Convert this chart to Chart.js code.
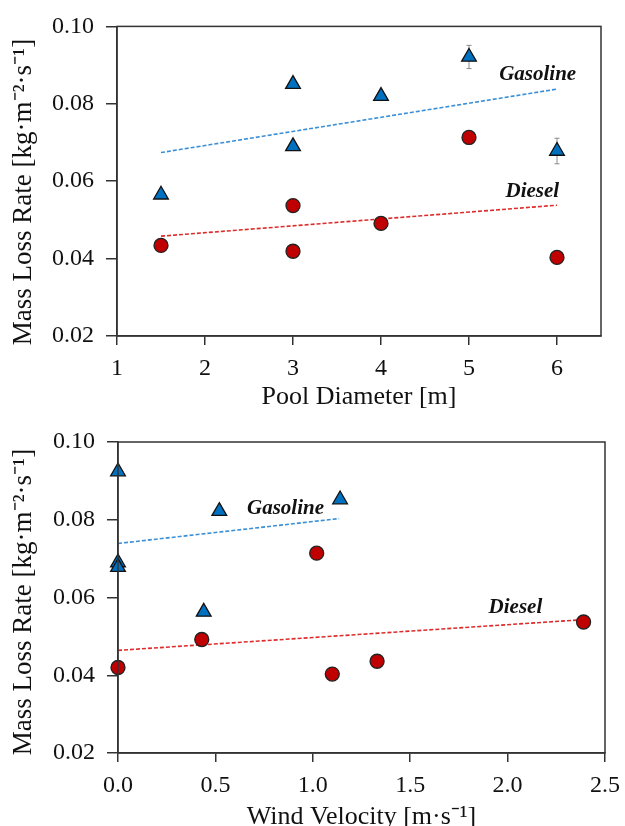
<!DOCTYPE html>
<html>
<head>
<meta charset="utf-8">
<script src="https://cdn.jsdelivr.net/npm/chart.js@4.4.1/dist/chart.umd.min.js"></script>
<style>
  body { margin: 0; background: #fff; }
  .wrap { position: relative; width: 625px; height: 826px; overflow: hidden; }
  canvas { position: absolute; left: 0; }
</style>
</head>
<body>
<div class="wrap">
  <canvas id="topChart" width="625" height="413" style="top:0"></canvas>
  <canvas id="botChart" width="625" height="413" style="top:413px"></canvas>
</div>
<script>
// ---- top panel: pool diameter ----
const topGasX = [1.5, 3, 3, 4, 5, 6];
const topGasY = [0.0565, 0.0851, 0.0690, 0.0820, 0.0921, 0.0678];
const topGasErr = [0, 0, 0, 0, 0.0030, 0.0033];
const topDieX = [1.5, 3, 3, 4, 5, 6];
const topDieY = [0.0434, 0.0537, 0.0419, 0.0491, 0.0713, 0.0403];
const topFitX = [1.5, 6];
const topFitGas = [0.0674, 0.0838];
const topFitDie = [0.0458, 0.0538];
const topXTicks = [1, 2, 3, 4, 5, 6];

// ---- bottom panel: wind velocity ----
const botGasX = [0, 0, 0, 0.44, 0.52, 1.14];
const botGasY = [0.0924, 0.0690, 0.0678, 0.0563, 0.0822, 0.0852];
const botDieX = [0, 0.43, 1.02, 1.10, 1.33, 2.39];
const botDieY = [0.0420, 0.0492, 0.0714, 0.0403, 0.0436, 0.0537];
const botFitGasX = [0, 1.135];
const botFitGas = [0.0739, 0.0803];
const botFitDieX = [0, 2.39];
const botFitDie = [0.0464, 0.0543];
const botXTicks = [0, 0.5, 1.0, 1.5, 2.0, 2.5];

const yTicks = [0.02, 0.04, 0.06, 0.08, 0.10];
const yTitle = 'Mass Loss Rate [kg\u00b7m\u207b\u00b2\u00b7s\u207b\u00b9]';

const SERIF = '"Liberation Serif", "Times New Roman", serif';
const BLUE = '#0070C0', RED = '#C00000';

function pts(xs, ys) { return xs.map((x, i) => ({ x: x, y: ys[i] })); }

// frame, error bars, y title and the italic labels
const extras = {
  id: 'extras',
  beforeDatasetsDraw(chart, args, opts) {
    const ctx = chart.ctx, xs = chart.scales.x, ys = chart.scales.y;
    (opts.errors || []).forEach(e => {
      e.x.forEach((x, i) => {
        if (!e.err[i]) return;
        const px = xs.getPixelForValue(x);
        const y1 = ys.getPixelForValue(e.y[i] + e.err[i]);
        const y2 = ys.getPixelForValue(e.y[i] - e.err[i]);
        ctx.save();
        ctx.strokeStyle = '#8a8a8a';
        ctx.lineWidth = 1;
        ctx.beginPath();
        ctx.moveTo(px, y1); ctx.lineTo(px, y2);
        ctx.moveTo(px - 2.5, y1); ctx.lineTo(px + 2.5, y1);
        ctx.moveTo(px - 2.5, y2); ctx.lineTo(px + 2.5, y2);
        ctx.stroke();
        ctx.restore();
      });
    });
  },
  afterDraw(chart, args, opts) {
    const ctx = chart.ctx, a = chart.chartArea;
    const xs = chart.scales.x, ys = chart.scales.y;
    ctx.save();
    ctx.strokeStyle = '#333';
    ctx.lineWidth = 1.5;
    ctx.strokeRect(a.left, a.top, a.right - a.left, a.bottom - a.top);
    ctx.font = 'italic bold 21px ' + SERIF;
    ctx.fillStyle = '#111';
    ctx.textAlign = 'center';
    ctx.textBaseline = 'middle';
    (opts.labels || []).forEach(l => {
      ctx.fillText(l.text, xs.getPixelForValue(l.x), ys.getPixelForValue(l.y));
    });
    // rotated y title
    ctx.translate(24, opts.yTitleY);
    ctx.rotate(-Math.PI / 2);
    ctx.font = '27px ' + SERIF;
    ctx.fillText(yTitle, 0, 0);
    ctx.restore();
  }
};

function makeChart(id, c) {
  return new Chart(document.getElementById(id), {
    type: 'scatter',
    data: {
      datasets: [
        { data: pts(c.gasX, c.gasY), pointStyle: 'triangle', pointRadius: 8.5,
          backgroundColor: BLUE, borderColor: '#111', borderWidth: 1.3, clip: false, order: 0 },
        { data: pts(c.dieX, c.dieY), pointStyle: 'circle', pointRadius: 7,
          backgroundColor: RED, borderColor: '#222', borderWidth: 1.3, clip: false, order: 1 },
        { data: pts(c.fitGasX, c.fitGas), showLine: true, pointRadius: 0,
          borderColor: '#3b8fd6', borderWidth: 1.6, borderDash: [4, 2], order: 2 },
        { data: pts(c.fitDieX, c.fitDie), showLine: true, pointRadius: 0,
          borderColor: '#dd2c2c', borderWidth: 1.6, borderDash: [4, 2], order: 3 }
      ]
    },
    options: {
      responsive: false,
      animation: false,
      layout: { padding: { top: c.padTop, right: c.padRight, left: 0, bottom: 0 } },
      plugins: {
        legend: { display: false },
        tooltip: { enabled: false },
        extras: { errors: c.errors, labels: c.labels, yTitleY: c.yTitleY }
      },
      scales: {
        x: {
          type: 'linear', min: c.xMin, max: c.xMax,
          afterBuildTicks: s => { s.ticks = c.xTicks.map(v => ({ value: v })); },
          afterFit: s => { s.height = c.xHeight; s.paddingRight = 0; s.paddingLeft = 0; },
          ticks: { color: '#111', font: { family: SERIF, size: 24 }, padding: 9,
                   maxRotation: 0, callback: v => v.toFixed(c.xDec) },
          grid: { display: true, drawOnChartArea: false, drawTicks: true, tickLength: 9,
                  color: '#333', lineWidth: 1.5 },
          border: { display: true, color: '#333', width: 1.5 },
          title: { display: true, text: c.xTitle, color: '#111',
                   font: { family: SERIF, size: 26 }, padding: { top: 0, bottom: c.xTitlePadBottom } }
        },
        y: {
          min: 0.02, max: 0.10,
          afterBuildTicks: s => { s.ticks = yTicks.map(v => ({ value: v })); },
          afterFit: s => { s.width = c.yWidth; },
          ticks: { color: '#111', font: { family: SERIF, size: 24 }, padding: 12,
                   callback: v => v.toFixed(2) },
          grid: { display: true, drawOnChartArea: false, drawTicks: true, tickLength: 11,
                  color: '#333', lineWidth: 1.5 },
          border: { display: true, color: '#333', width: 1.5 },
          title: { display: false }
        }
      }
    },
    plugins: [extras]
  });
}

makeChart('topChart', {
  gasX: topGasX, gasY: topGasY, dieX: topDieX, dieY: topDieY,
  fitGasX: topFitX, fitGas: topFitGas, fitDieX: topFitX, fitDie: topFitDie,
  xMin: 1, xMax: 6.5, xTicks: topXTicks, xDec: 0, xTitle: 'Pool Diameter [m]',
  padTop: 21, padRight: 24, xHeight: 77, yWidth: 117, xTitlePadBottom: 0, yTitleY: 192,
  errors: [{ x: topGasX, y: topGasY, err: topGasErr }],
  labels: [{ text: 'Gasoline', x: 5.78, y: 0.0876 }, { text: 'Diesel', x: 5.72, y: 0.0572 }]
});

makeChart('botChart', {
  gasX: botGasX, gasY: botGasY, dieX: botDieX, dieY: botDieY,
  fitGasX: botFitGasX, fitGas: botFitGas, fitDieX: botFitDieX, fitDie: botFitDie,
  xMin: 0, xMax: 2.5, xTicks: botXTicks, xDec: 1, xTitle: 'Wind Velocity [m\u00b7s\u207b\u00b9]',
  padTop: 29, padRight: 20, xHeight: 73, yWidth: 118, xTitlePadBottom: -7, yTitleY: 189,
  errors: [],
  labels: [{ text: 'Gasoline', x: 0.86, y: 0.0830 }, { text: 'Diesel', x: 2.04, y: 0.0573 }]
});
</script>
</body>
</html>
